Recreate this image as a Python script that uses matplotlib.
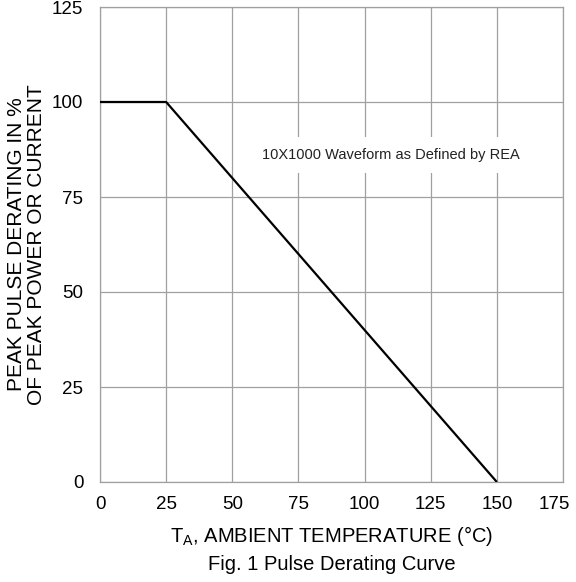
import matplotlib.pyplot as plt
from matplotlib.transforms import ScaledTranslation

plt.rcParams['font.family'] = ['Liberation Sans', 'DejaVu Sans']

temp = [0, 25, 150]
derating = [100, 100, 0]
xticks = [0, 25, 50, 75, 100, 125, 150, 175]
yticks = [0, 25, 50, 75, 100, 125]

fig = plt.figure(figsize=(5.76, 5.82), dpi=100)
ax = fig.add_axes([100/576, 1 - 482/582, 463/576, 475/582])

ax.plot(temp, derating, color='black', lw=1.6, solid_capstyle='butt', zorder=3)
ax.set_xlim(0, 175)
ax.set_ylim(0, 125)
ax.set_xticks(xticks)
ax.set_yticks(yticks)
ax.grid(True, color='#a0a0a0', lw=0.9)
for s in ax.spines.values():
    s.set_color('#a0a0a0')
    s.set_linewidth(0.9)
ax.tick_params(length=0, labelsize=13.5, pad=10)
ax.tick_params(axis='y', pad=12)

# last x label sits pulled in from the right edge
lbl = ax.get_xticklabels()[-1]
lbl.set_transform(lbl.get_transform() + ScaledTranslation(-9/100, 0, fig.dpi_scale_trans))

ax.text(110, 86, '10X1000 Waveform as Defined by REA', fontsize=10.5,
        ha='center', va='center', color='#222222', zorder=4,
        bbox=dict(facecolor='white', edgecolor='none', pad=8))

ax.set_ylabel('PEAK PULSE DERATING IN %\nOF PEAK POWER OR CURRENT',
              fontsize=15, linespacing=1.1, labelpad=4)
ax.set_xlabel('T$_\\mathregular{A}$, AMBIENT TEMPERATURE (°C)', fontsize=14.5, labelpad=8)
fig.text(0.5 * (100 + 563) / 576, 1 - 565/582, 'Fig. 1 Pulse Derating Curve',
         fontsize=14.5, ha='center', va='center')

fig.savefig('out.png', dpi=100)
